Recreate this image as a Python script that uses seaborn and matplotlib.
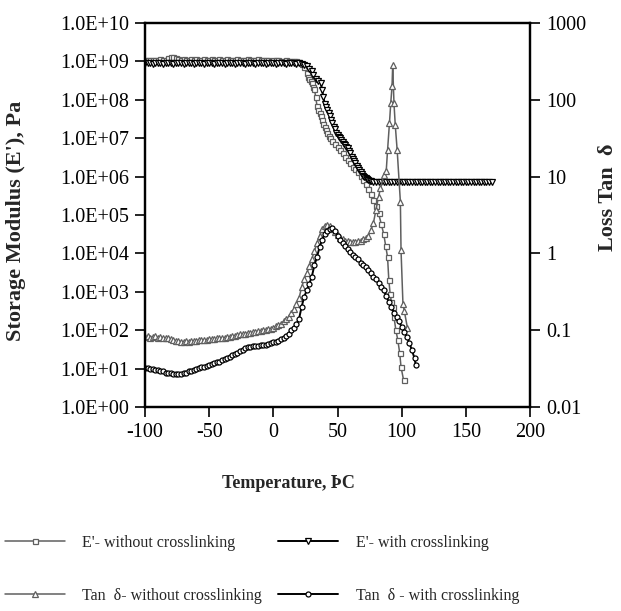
import matplotlib
matplotlib.use("Agg")
import matplotlib.pyplot as plt
import seaborn as sns

# E' without crosslinking (Pa)
temp_e_nc = [-100, -98, -96, -94, -92, -90, -88, -86, -84, -82, -80, -78, -76, -74, -72,
             -70, -68, -66, -64, -62, -60, -58, -56, -54, -52, -50, -48, -46, -44, -42,
             -40, -38, -36, -34, -32, -30, -28, -26, -24, -22, -20, -18, -16, -14, -12,
             -10, -8, -6, -4, -2, 0, 2, 4, 6, 8, 10, 12, 14, 16, 18, 20,
             22, 24, 26, 27, 28, 29, 30, 31, 32, 33, 34, 35, 36, 37, 38, 39, 40, 41, 42,
             43, 44, 46, 48, 50, 52, 54, 56, 58, 60, 62, 64, 66, 68, 70, 72, 74, 76, 78,
             80, 82, 84, 86, 87.5, 89, 90, 91, 92, 93, 94, 95.5, 97, 98.5, 99.5, 101.5]
e_nc = [1.1e9, 1.12e9, 1.1e9, 1.08e9, 1.12e9, 1.1e9, 1.15e9, 1.1e9, 1.12e9, 1.2e9,
        1.3e9, 1.28e9, 1.25e9, 1.15e9, 1.12e9, 1.15e9, 1.1e9, 1.12e9, 1.15e9, 1.12e9,
        1.15e9, 1.1e9, 1.12e9, 1.15e9, 1.1e9, 1.12e9, 1.15e9, 1.1e9, 1.12e9, 1.15e9,
        1.1e9, 1.12e9, 1.15e9, 1.1e9, 1.1e9, 1.12e9, 1.15e9, 1.1e9, 1.1e9, 1.12e9,
        1.15e9, 1.1e9, 1.1e9, 1.12e9, 1.15e9, 1.1e9, 1.08e9, 1.1e9, 1.1e9, 1.05e9,
        1.08e9, 1.1e9, 1.1e9, 1.05e9, 1.05e9, 1.1e9, 1.05e9, 1.05e9, 1.0e9, 1.0e9,
        9.5e8,
        8.5e8, 7e8, 5e8, 4e8, 3.5e8, 3e8, 2.7e8, 2.2e8, 1.9e8, 1.2e8, 7e7, 5.5e7, 4.5e7,
        3.7e7, 3e7, 2.4e7, 1.9e7, 1.6e7, 1.35e7, 1.15e7, 1e7, 8.5e6, 7e6, 5.8e6, 4.9e6,
        4e6, 3.3e6, 2.7e6, 2.2e6, 1.8e6, 1.55e6, 1.3e6, 1.05e6, 8e5, 6.3e5, 4.8e5, 3.6e5,
        2.4e5, 1.7e5, 1.1e5, 6e4, 3.2e4, 1.6e4, 8e3, 2e3, 9e2, 5.5e2, 4e2, 2.2e2, 1e2,
        5.5e1, 2.5e1, 1.1e1, 5]

# E' with crosslinking (Pa)
temp_e_c = [-100, -98, -96, -94, -92, -90, -88, -86, -84, -82, -80, -78, -76, -74, -72,
            -70, -68, -66, -64, -62, -60, -58, -56, -54, -52, -50, -48, -46, -44, -42,
            -40, -38, -36, -34, -32, -30, -28, -26, -24, -22, -20, -18, -16, -14, -12,
            -10, -8, -6, -4, -2, 0, 2, 4, 6, 8, 10, 12, 14, 16, 18, 20, 22,
            24, 26, 28, 30, 31, 33, 35, 37, 38, 39, 40, 41, 42, 43, 44, 45, 46, 47, 48,
            49, 50, 51, 52, 53, 54, 55, 56, 57, 58, 59, 60, 61, 62, 63, 64, 65, 66, 67,
            68, 69, 70, 71, 72, 73, 74, 75, 76, 78, 80,
            82, 84, 86, 88, 90, 92, 94, 96, 98, 100, 102, 104, 106, 108, 110, 112, 114,
            116, 118, 120, 122, 124, 126, 128, 130, 132, 134, 136, 138, 140, 142, 144,
            146, 148, 150, 152, 154, 156, 158, 160, 162, 164, 166, 168, 170]
e_c = [9e8, 8.9e8, 9e8, 8.8e8, 9e8, 8.9e8, 9e8, 8.8e8, 9e8, 8.9e8, 9e8, 8.8e8, 9e8,
       8.9e8, 9e8, 8.8e8, 9e8, 8.9e8, 9e8, 8.8e8, 9e8, 8.9e8, 9e8, 8.8e8, 9e8, 8.9e8,
       9e8, 8.8e8, 9e8, 8.9e8, 9e8, 8.8e8, 9e8, 8.9e8, 9e8, 8.8e8, 9e8, 8.9e8, 9e8,
       8.8e8, 9e8, 8.9e8, 9e8, 8.8e8, 9e8, 8.9e8, 9e8, 8.8e8, 9e8, 8.9e8, 9e8, 8.8e8,
       9e8, 8.9e8, 9e8, 8.8e8, 9e8, 8.9e8, 9e8, 8.8e8, 9e8, 8.8e8,
       8e8, 7.5e8, 6.5e8, 5.5e8, 4.5e8, 3.5e8, 3e8, 2.7e8, 1.8e8, 1.2e8, 8e7, 6.5e7,
       5.4e7, 4.5e7, 3.8e7, 3e7, 2.5e7, 2e7, 1.7e7, 1.4e7, 1.2e7, 1.1e7, 1e7, 9e6, 8e6,
       7.2e6, 6.5e6, 6e6, 5.5e6, 4.7e6, 4e6, 3.3e6, 2.8e6, 2.5e6, 2.2e6, 1.9e6, 1.7e6,
       1.5e6, 1.3e6, 1.15e6, 1.05e6, 9.5e5, 9e5, 8.5e5, 8e5, 7.7e5, 7.5e5, 7.3e5, 7.2e5,
       7.1e5, 7.2e5, 7.1e5, 7.2e5, 7.1e5, 7.2e5, 7.1e5, 7.2e5, 7.1e5, 7.2e5, 7.1e5,
       7.2e5, 7.1e5, 7.2e5, 7.1e5, 7.2e5, 7.1e5, 7.2e5, 7.1e5, 7.2e5, 7.1e5, 7.2e5,
       7.1e5, 7.2e5, 7.1e5, 7.2e5, 7.1e5, 7.2e5, 7.1e5, 7.2e5, 7.1e5, 7.2e5, 7.1e5,
       7.2e5, 7.1e5, 7.2e5, 7.1e5, 7.2e5, 7.1e5, 7.2e5, 7.1e5, 7.2e5, 7.1e5, 7.2e5,
       7.1e5]

# Tan delta without crosslinking
temp_t_nc = [-100, -98, -96, -94, -92, -90, -88, -86, -84, -82, -80, -78, -76, -74, -72,
             -70, -68, -66, -64, -62, -60, -58, -56, -54, -52, -50, -48, -46, -44, -42,
             -40, -38, -36, -34, -32, -30, -28, -26, -24, -22, -20, -18, -16, -14, -12,
             -10, -8, -6, -4, -2, 0, 2, 4, 6, 8, 10, 12, 14, 16, 18, 20,
             22, 24, 26, 28, 30, 32, 34, 36, 38, 40, 42, 44, 46, 48, 50, 52, 54, 56, 58,
             60, 62, 64, 66, 68, 70, 72, 74, 76, 78, 80, 82, 83.5, 86, 88, 89, 90.5, 91.5,
             92.5, 93, 94, 95, 96.5, 99, 99.5, 101, 102, 104.5]
tan_nc = [0.081, 0.083, 0.08, 0.082, 0.084, 0.08, 0.081, 0.079, 0.08, 0.078, 0.076,
          0.074, 0.073, 0.072, 0.071, 0.071, 0.072, 0.071, 0.072, 0.073, 0.073, 0.074,
          0.074, 0.075, 0.075, 0.076, 0.076, 0.077, 0.078, 0.078, 0.079, 0.08, 0.081,
          0.082, 0.084, 0.085, 0.086, 0.088, 0.089, 0.09, 0.092, 0.093, 0.094, 0.096,
          0.097, 0.098, 0.1, 0.101, 0.103, 0.105, 0.108, 0.112, 0.116, 0.122, 0.13,
          0.138, 0.15, 0.165, 0.19, 0.22, 0.26,
          0.36, 0.46, 0.55, 0.68, 0.85, 1.07, 1.36, 1.7, 2.05, 2.3, 2.37, 2.28, 2.1, 1.9,
          1.72, 1.6, 1.52, 1.47, 1.43, 1.42, 1.42, 1.42, 1.44, 1.47, 1.52, 1.58, 1.7,
          2.0, 2.5, 3.7, 5.5, 7, 10.5, 12, 22, 50, 91, 150, 280, 91, 47, 22, 4.7, 1.1,
          0.22, 0.18, 0.107]

# Tan delta with crosslinking
temp_t_c = [-100, -98, -96, -94, -92, -90, -88, -86, -84, -82, -80, -78, -76, -74, -72,
            -70, -68, -66, -64, -62, -60, -58, -56, -54, -52, -50, -48, -46, -44, -42,
            -40, -38, -36, -34, -32, -30, -28, -26, -24, -22, -20, -18, -16, -14, -12,
            -10, -8, -6, -4, -2, 0, 2, 4, 6, 8, 10, 12, 14, 16, 18, 20,
            22, 24, 26, 28, 30, 32, 34, 36, 38, 40, 42, 44, 46, 48, 50, 52, 54, 56, 58,
            60, 62, 64, 66, 68, 70, 72, 74, 76, 78, 80, 82, 84, 86, 88, 90, 92, 94, 96,
            98, 100, 102, 104, 106, 108, 110, 111]
tan_c = [0.032, 0.032, 0.031, 0.031, 0.03, 0.03, 0.029, 0.029, 0.028, 0.028, 0.028,
         0.027, 0.027, 0.027, 0.027, 0.028, 0.028, 0.029, 0.029, 0.03, 0.031, 0.032,
         0.033, 0.033, 0.034, 0.035, 0.036, 0.037, 0.038, 0.039, 0.041, 0.042, 0.044,
         0.045, 0.047, 0.049, 0.051, 0.054, 0.056, 0.058, 0.06, 0.061, 0.062, 0.063,
         0.063, 0.064, 0.065, 0.065, 0.067, 0.068, 0.07, 0.071, 0.073, 0.076, 0.08,
         0.085, 0.09, 0.1, 0.108, 0.12, 0.14,
         0.2, 0.27, 0.33, 0.4, 0.5, 0.7, 0.9, 1.2, 1.5, 1.8, 1.95, 2.1, 2.12, 1.95, 1.7,
         1.5, 1.35, 1.25, 1.15, 1.05, 0.96, 0.9, 0.84, 0.76, 0.7, 0.66, 0.6, 0.55, 0.5,
         0.46, 0.41, 0.36, 0.33, 0.28, 0.23, 0.2, 0.17, 0.15, 0.13, 0.11, 0.095, 0.082,
         0.068, 0.055, 0.043, 0.035]

x_ticks = [-100, -50, 0, 50, 100, 150, 200]
left_ticks = [1e0, 1e1, 1e2, 1e3, 1e4, 1e5, 1e6, 1e7, 1e8, 1e9, 1e10]
left_labels = ['1.0E+00', '1.0E+01', '1.0E+02', '1.0E+03', '1.0E+04', '1.0E+05',
               '1.0E+06', '1.0E+07', '1.0E+08', '1.0E+09', '1.0E+10']
right_ticks = [0.01, 0.1, 1, 10, 100, 1000]
right_labels = ['0.01', '0.1', '1', '10', '100', '1000']

sns.set_style("ticks")
plt.rcParams['font.family'] = ['Liberation Serif', 'DejaVu Serif']

GRAY = '#5f5f5f'

fig = plt.figure(figsize=(6.21, 6.11), dpi=100)
ax = fig.add_axes([145 / 621, 1 - 407 / 611, 385 / 621, 384 / 611])
ax2 = ax.twinx()

common = dict(estimator=None, sort=False, errorbar=None, markerfacecolor='white',
              markeredgewidth=0.9, legend=False)
sns.lineplot(x=temp_e_nc, y=e_nc, ax=ax, color=GRAY, marker='s', markersize=3.6,
             markeredgecolor=GRAY, linewidth=1.1, label="E'- without crosslinking", **common)
sns.lineplot(x=temp_e_c, y=e_c, ax=ax, color='black', marker='v', markersize=3.8,
             markeredgecolor='black', linewidth=1.4, label="E'- with crosslinking", **common)
sns.lineplot(x=temp_t_nc, y=tan_nc, ax=ax2, color=GRAY, marker='^', markersize=3.8,
             markeredgecolor=GRAY, linewidth=1.1, label="Tan  δ- without crosslinking", **common)
sns.lineplot(x=temp_t_c, y=tan_c, ax=ax2, color='black', marker='o', markersize=3.6,
             markeredgecolor='black', linewidth=1.4, label="Tan  δ - with crosslinking", **common)

ax.set_yscale('log')
ax.set_ylim(1e0, 1e10)
ax.set_xlim(-100, 200)
ax.set_xticks(x_ticks)
ax.set_xticklabels([str(v) for v in x_ticks])
ax.set_yticks(left_ticks)
ax.set_yticklabels(left_labels)
ax.minorticks_off()

ax2.set_yscale('log')
ax2.set_ylim(0.01, 1000)
ax2.set_yticks(right_ticks)
ax2.set_yticklabels(right_labels)
ax2.minorticks_off()

for a in (ax, ax2):
    for s in a.spines.values():
        s.set_linewidth(1.6)
        s.set_color('black')
    a.tick_params(axis='both', which='major', direction='out', length=7, width=1.2,
                  labelsize=14.5, pad=4.5, colors='black')
ax.tick_params(axis='y', right=False)
ax2.tick_params(axis='y', left=False)
ax.set_xlabel('')
ax.set_ylabel('')
ax2.set_ylabel('')

fig.text(16 / 621, 1 - 221 / 611, "Storage Modulus (E'), Pa", rotation=90, fontsize=16,
         fontweight='bold', ha='center', va='center')
fig.text(608 / 621, 1 - 197 / 611, "Loss Tan  δ", rotation=90, fontsize=16,
         fontweight='bold', ha='center', va='center')
fig.text(288 / 621, 1 - 483 / 611, "Temperature, ÞC", fontsize=13, fontweight='bold',
         ha='center', va='center')

h1, l1 = ax.get_legend_handles_labels()
h2, l2 = ax2.get_legend_handles_labels()
handles = [h1[0], h2[0], h1[1], h2[1]]
labels = [l1[0], l2[0], l1[1], l2[1]]
fig.legend(handles, labels, ncol=2, loc='upper left', bbox_to_anchor=(5 / 621, 1 - 535 / 611),
           frameon=False, fontsize=11.5, handlelength=3.75, handletextpad=1.1,
           columnspacing=1.0, labelspacing=2.3, borderpad=0, borderaxespad=0, numpoints=1)

fig.savefig('out.png', dpi=100)
